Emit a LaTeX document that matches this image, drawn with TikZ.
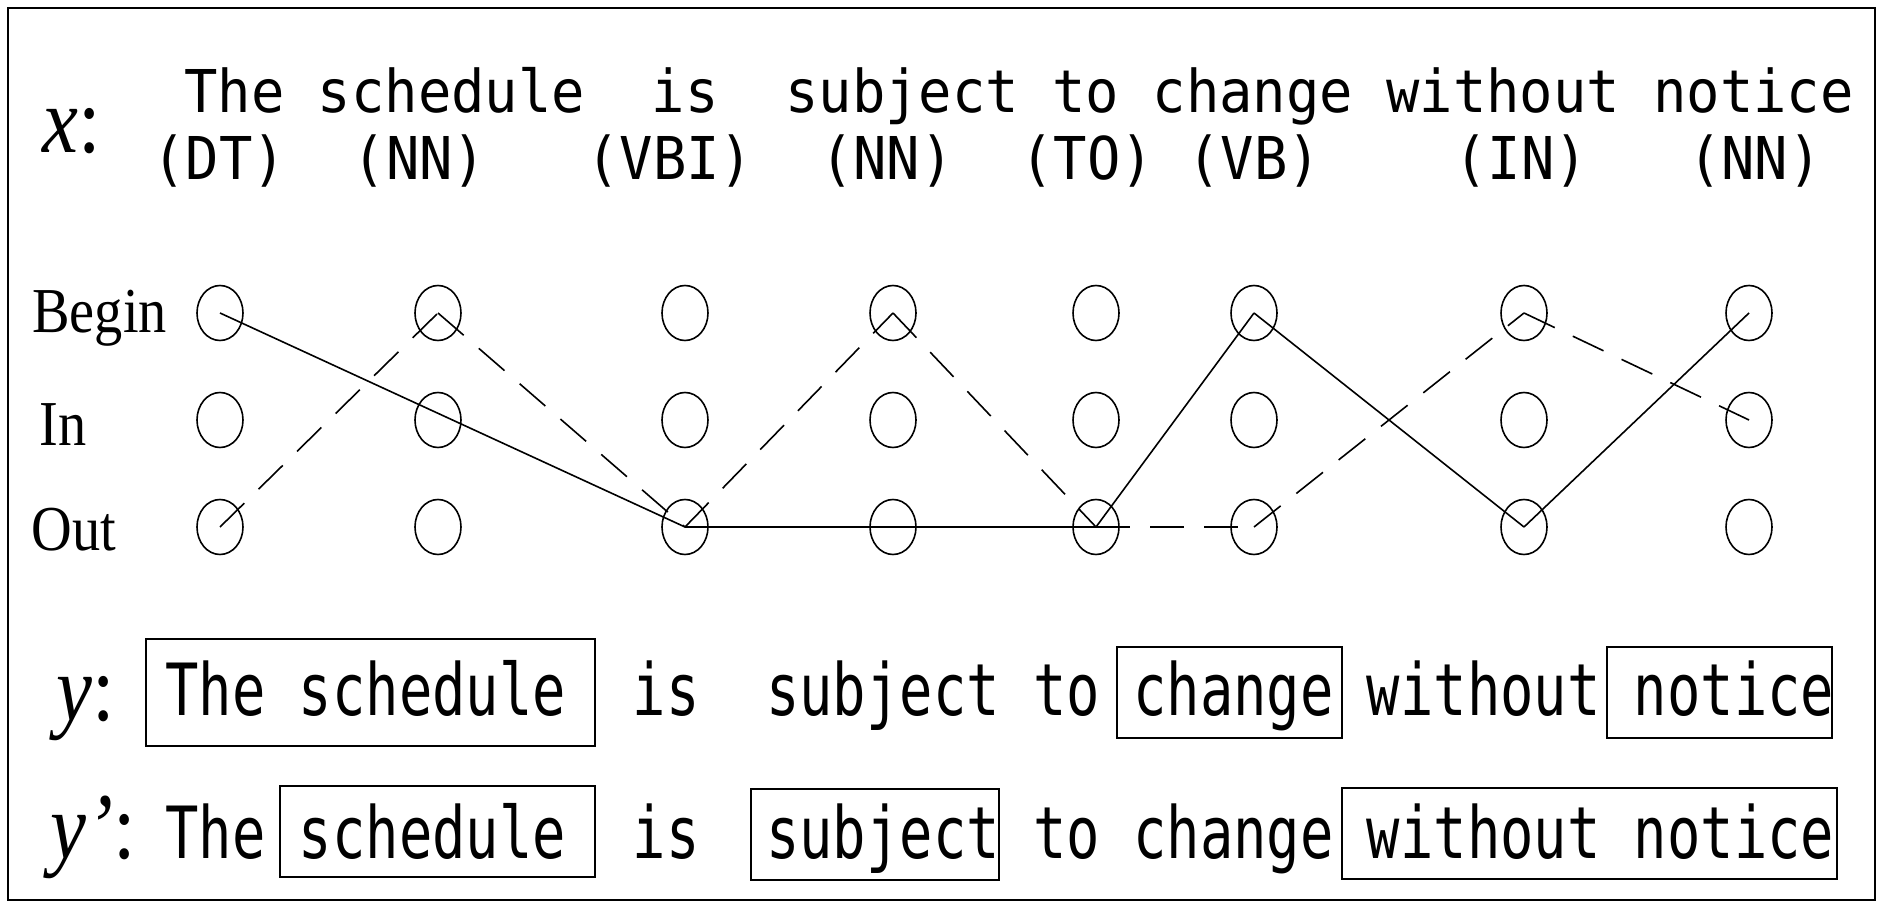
\documentclass[tikz,border=0pt]{standalone}
\usepackage{fontspec}
\usepackage{tikz}
\usetikzlibrary{shapes.geometric, positioning}
\setmainfont{Liberation Serif}
\newfontfamily\varfont[FakeStretch=0.86]{Liberation Serif}
\newfontfamily\rowfont[FakeStretch=0.88]{Liberation Serif}
\newfontfamily\wordfont[FakeStretch=0.94]{DejaVu Sans Mono}
\newfontfamily\segfont[FakeStretch=0.77]{DejaVu Sans Mono}
\tikzstyle{state} = [ellipse, draw=black, line width=0.8pt, minimum width=23pt, minimum height=27.5pt, inner sep=0pt]
\tikzstyle{varlab} = [inner sep=0pt, anchor=base west, font=\varfont\fontsize{47pt}{50pt}\selectfont]
\tikzstyle{rowlab} = [inner sep=0pt, anchor=base west, font=\rowfont\fontsize{32pt}{34pt}\selectfont]
\tikzstyle{mono} = [inner sep=0pt, anchor=base west, font=\wordfont\fontsize{29.5pt}{31pt}\selectfont]
\tikzstyle{segline} = [inner sep=0pt, anchor=base west, font=\segfont\fontsize{36pt}{38pt}\selectfont]
\tikzstyle{best} = [line width=0.8pt]
\tikzstyle{rival} = [line width=0.8pt, dash pattern=on 17pt off 10pt]
\tikzstyle{segbox} = [line width=0.9pt]

\begin{document}
\begin{tikzpicture}[x=0.5pt, y=-0.5pt, node distance=53.5pt]
        \useasboundingbox (0,0) rectangle (1879,903);
        \draw [line width=1pt] (8,8) rectangle (1875,900);

        % Input sentence with its tags
        \node (xlab) [varlab] at (42,153) {\itshape x\upshape:};
        \node (words) [mono] at (184,113) {The~schedule~~is~~subject~to~change~without~notice};
        \node (tags) [mono] at (152,180) {(DT)~~(NN)~~~(VBI)~~(NN)~~(TO)~(VB)~~~~(IN)~~~(NN)};

        % Row labels
        \node (lbegin) [rowlab] at (32,333) {Begin};
        \node (lin) [rowlab] at (39,445) {In};
        \node (lout) [rowlab] at (31,550) {Out};

        % Lattice, one column per word
        \node (b1) [state] at (220,313) {};
        \node (i1) [state, below of=b1] {};
        \node (o1) [state, below of=i1] {};
        \node (b2) [state] at (438,313) {};
        \node (i2) [state, below of=b2] {};
        \node (o2) [state, below of=i2] {};
        \node (b3) [state] at (685,313) {};
        \node (i3) [state, below of=b3] {};
        \node (o3) [state, below of=i3] {};
        \node (b4) [state] at (893,313) {};
        \node (i4) [state, below of=b4] {};
        \node (o4) [state, below of=i4] {};
        \node (b5) [state] at (1096,313) {};
        \node (i5) [state, below of=b5] {};
        \node (o5) [state, below of=i5] {};
        \node (b6) [state] at (1254,313) {};
        \node (i6) [state, below of=b6] {};
        \node (o6) [state, below of=i6] {};
        \node (b7) [state] at (1524,313) {};
        \node (i7) [state, below of=b7] {};
        \node (o7) [state, below of=i7] {};
        \node (b8) [state] at (1749,313) {};
        \node (i8) [state, below of=b8] {};
        \node (o8) [state, below of=i8] {};

        % Path of y
        \draw [best] (b1.center) -- (o3.center);
        \draw [best] (o3.center) -- (o4.center) -- (o5.center);
        \draw [best] (o5.center) -- (b6.center);
        \draw [best] (b6.center) -- (o7.center);
        \draw [best] (o7.center) -- (b8.center);

        % Path of y'
        \draw [rival] (o1.center) -- (b2.center);
        \draw [rival] (b2.center) -- (o3.center);
        \draw [rival] (o3.center) -- (b4.center);
        \draw [rival] (b4.center) -- (o5.center);
        \draw [rival] (o5.center) -- (o6.center);
        \draw [rival] (o6.center) -- (b7.center);
        \draw [rival] (b7.center) -- (i8.center);

        % Segmentation y
        \node (ylab) [varlab] at (56,720) {\itshape y\upshape:};
        \node (yseg) [segline] at (165,715) {The~schedule~~is~~subject~to~change~without~notice};
        \draw [segbox] (146,639) rectangle (595,746);
        \draw [segbox] (1117,647) rectangle (1342,738);
        \draw [segbox] (1607,647) rectangle (1832,738);

        % Segmentation y'
        \node (yplab) [varlab] at (50,858) {\itshape y’\upshape:};
        \node (ypseg) [segline] at (165,858) {The~schedule~~is~~subject~to~change~without~notice};
        \draw [segbox] (280,786) rectangle (595,877);
        \draw [segbox] (751,789) rectangle (999,880);
        \draw [segbox] (1342,788) rectangle (1837,879);
      \end{tikzpicture}
\end{document}
